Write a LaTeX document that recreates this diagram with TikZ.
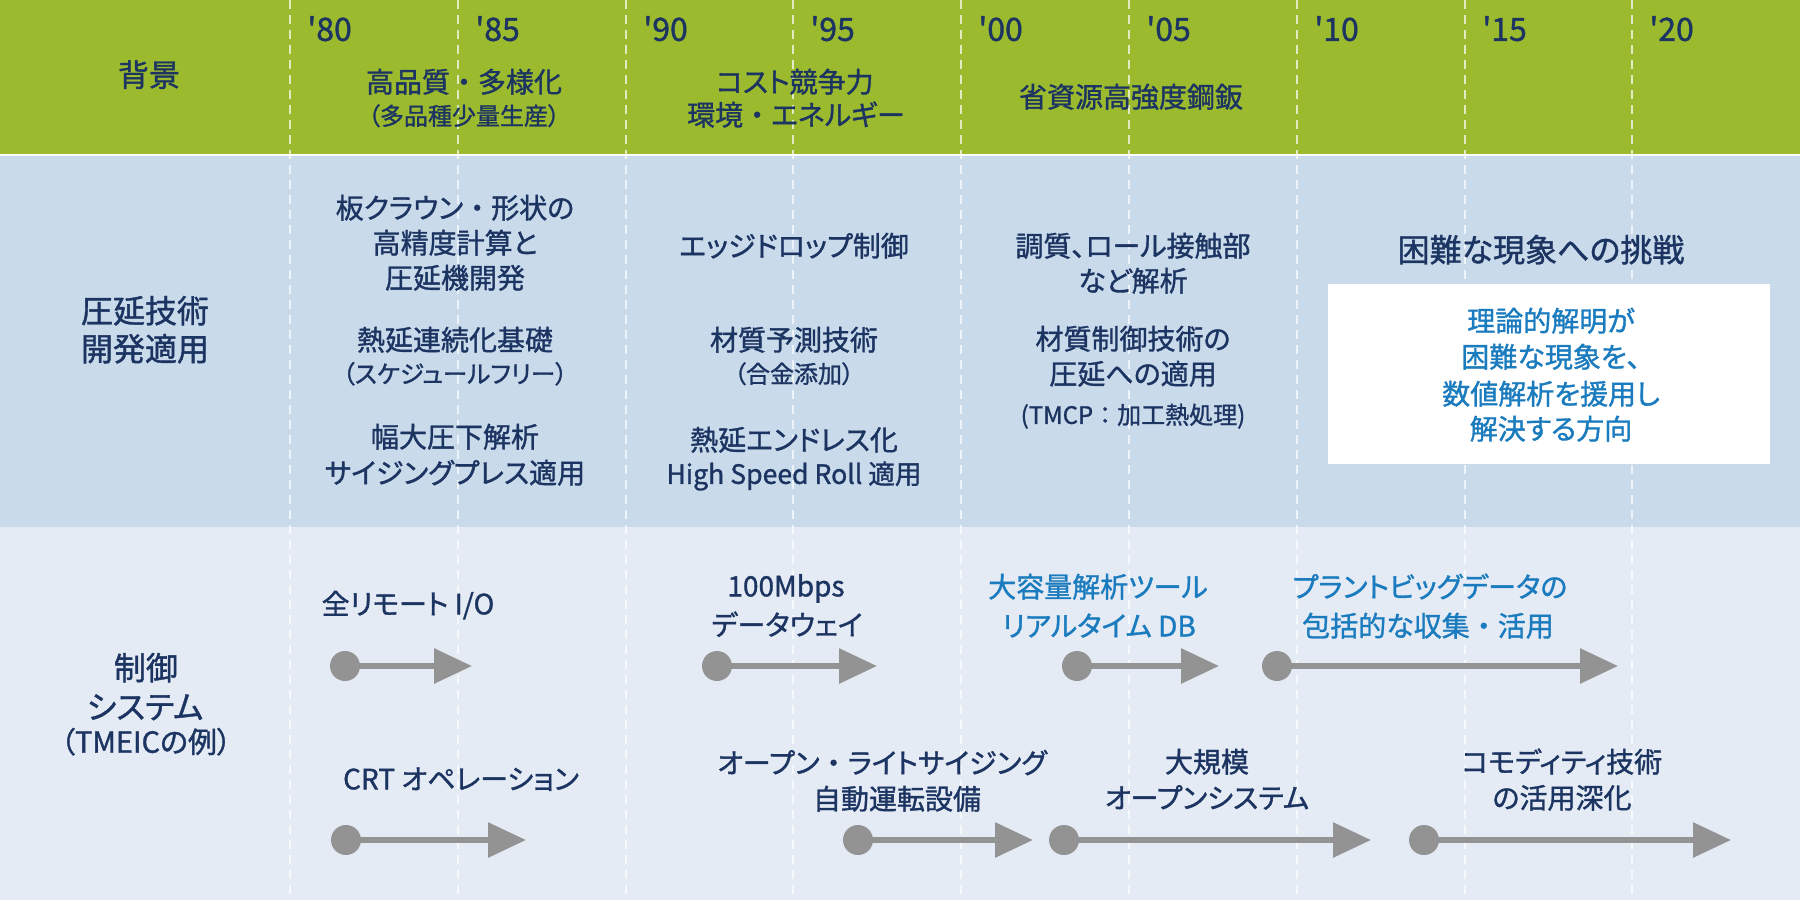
\documentclass[tikz,border=0pt]{standalone}
\usepackage{fontspec}
\setmainfont{Noto Sans CJK JP}[RawFeature=+palt, FakeBold=1.2]
\newfontfamily\yrfont{Noto Sans CJK JP}[FakeBold=1.2]
\newfontfamily\fullfont{Noto Sans CJK JP}[FakeBold=1.2]
\usetikzlibrary{arrows.meta}
\definecolor{bandgreen}{HTML}{9BBA2E}
\definecolor{bandblue}{HTML}{C9DAEB}
\definecolor{bandlight}{HTML}{E4EBF4}
\definecolor{navy}{HTML}{1C3461}
\definecolor{tblue}{HTML}{1A7BBE}
\definecolor{arrgray}{HTML}{939393}
\begin{document}
\begin{tikzpicture}[x=0.5pt,y=-0.5pt,
  lbl/.style={inner sep=0pt, text=navy, font=\fontsize{#1}{#1}\selectfont, text height={0.87*#1pt}, text depth={0.13*#1pt}},
  blbl/.style={lbl=#1, text=tblue},
  vline/.style={draw=white, draw opacity=0.7, line width=1pt, dash pattern=on 4.5pt off 3pt},
  dot/.style={circle, fill=arrgray, inner sep=0pt, minimum size=15pt},
  arr/.style={draw=arrgray, line width=3pt, -{Triangle[length=19pt,width=17pt]}},
  yr/.style={inner sep=0pt, text=navy, font=\yrfont\fontsize{16}{16}\selectfont, text height={0.87*16pt}, text depth={0.13*16pt}, anchor=west}
]
\useasboundingbox (0,0) rectangle (1800,900);
% bands
\fill[bandgreen] (0,0) rectangle (1800,154);
\fill[white] (0,154) rectangle (1800,156);
\fill[bandblue] (0,156) rectangle (1800,527);
\fill[bandlight] (0,527) rectangle (1800,900);
% dashed year lines
\foreach \k in {0,...,8} \draw[vline] ({290+167.8*\k},0) -- ({290+167.8*\k},900);
% years
\node[yr] (y80) at (307,29) {'80};
\node[yr] (y85) at (475,29) {'85};
\node[yr] (y90) at (643,29) {'90};
\node[yr] (y95) at (810,29) {'95};
\node[yr] (y00) at (978,29) {'00};
\node[yr] (y05) at (1146,29) {'05};
\node[yr] (y10) at (1314,29) {'10};
\node[yr] (y15) at (1482,29) {'15};
\node[yr] (y20) at (1649,29) {'20};
% green band
\node[lbl=15.5] (bgl) at (149,75) {背景};
\node[lbl=14] (g1a) at (464,82) {高品質{\fullfont ・}多様化};
\node[lbl=12] (g1b) at (464,116) {（多品種少量生産）};
\node[lbl=14] (g2a) at (795,82) {コスト競争力};
\node[lbl=14] (g2b) at (796,115) {環境{\fullfont ・}エネルギー};
\node[lbl=14] (g3) at (1131,97) {省資源高強度鋼鈑};
% blue band
\node[lbl=16] (rl1) at (145,311) {圧延技術};
\node[lbl=16] (rl2) at (145,349) {開発適用};
\node[lbl=14] (m1a) at (455,208) {板クラウン{\fullfont ・}形状の};
\node[lbl=14] (m1b) at (455,243) {高精度計算と};
\node[lbl=14] (m1c) at (455,278) {圧延機開発};
\node[lbl=14] (m1d) at (455,340) {熱延連続化基礎};
\node[lbl=12.3] (m1e) at (455,374) {（スケジュールフリー）};
\node[lbl=14] (m1f) at (455,437) {幅大圧下解析};
\node[lbl=14] (m1g) at (455,473) {サイジングプレス適用};
\node[lbl=14] (m2a) at (794,246) {エッジドロップ制御};
\node[lbl=14] (m2b) at (794,340) {材質予測技術};
\node[lbl=12] (m2c) at (794,374) {（合金添加）};
\node[lbl=14] (m2d) at (794,440) {熱延エンドレス化};
\node[lbl=13.3] (m2e) at (794,474) {High Speed Roll 適用};
\node[lbl=14] (m3a) at (1133,246) {調質、ロール接触部};
\node[lbl=14] (m3b) at (1133,281) {など解析};
\node[lbl=14] (m3c) at (1133,339) {材質制御技術の};
\node[lbl=14] (m3d) at (1133,374) {圧延への適用};
\node[lbl=12] (m3e) at (1133,415) {(TMCP{\fullfont ：}加工熱処理)};
\node[lbl=16] (m4h) at (1541,250) {困難な現象への挑戦};
\node[fill=white, inner sep=0pt, minimum width=221pt, minimum height=90pt] (chbox) at (1549,374) {};
\node[blbl=14] (bx1) at (1551,321) {理論的解明が};
\node[blbl=14] (bx2) at (1551,357) {困難な現象を、};
\node[blbl=14] (bx3) at (1551,394) {数値解析を援用し};
\node[blbl=14] (bx4) at (1551,429) {解決する方向};
% light band
\node[lbl=16] (cl1) at (146,668) {制御};
\node[lbl=16] (cl2) at (145,707) {システム};
\node[lbl=14.5] (cl3) at (146,742) {（TMEICの例）};
\node[lbl=14] (b1) at (408,604) {全リモート I/O};
\node[lbl=14] (b2) at (461,779) {CRT オペレーション};
\node[lbl=14] (b3a) at (786,586) {100Mbps};
\node[lbl=14] (b3b) at (787,625) {データウェイ};
\node[lbl=14] (b4a) at (882,763) {オープン{\fullfont ・}ライトサイジング};
\node[lbl=14] (b4b) at (897,799) {自動運転設備};
\node[blbl=14] (b5a) at (1098,587) {大容量解析ツール};
\node[blbl=14] (b5b) at (1099,626) {リアルタイム DB};
\node[blbl=14] (b6a) at (1430,587) {プラントビッグデータの};
\node[blbl=14] (b6b) at (1428,626) {包括的な収集{\fullfont ・}活用};
\node[lbl=14] (b7a) at (1207,762) {大規模};
\node[lbl=14] (b7b) at (1207,798) {オープンシステム};
\node[lbl=14] (b8a) at (1562,762) {コモディティ技術};
\node[lbl=14] (b8b) at (1562,798) {の活用深化};
% arrows
\node[dot] (a1c) at (345,666) {}; \coordinate (a1t) at (472,666);
\node[dot] (a2c) at (346,840) {}; \coordinate (a2t) at (526,840);
\node[dot] (a3c) at (717,666) {}; \coordinate (a3t) at (877,666);
\node[dot] (a4c) at (858,840) {}; \coordinate (a4t) at (1033,840);
\node[dot] (a5c) at (1077,666) {}; \coordinate (a5t) at (1219,666);
\node[dot] (a6c) at (1277,666) {}; \coordinate (a6t) at (1618,666);
\node[dot] (a7c) at (1064,840) {}; \coordinate (a7t) at (1371,840);
\node[dot] (a8c) at (1424,840) {}; \coordinate (a8t) at (1731,840);
\foreach \i in {1,...,8} \draw[arr] (a\i c.center) -- (a\i t);
\end{tikzpicture}
\end{document}
